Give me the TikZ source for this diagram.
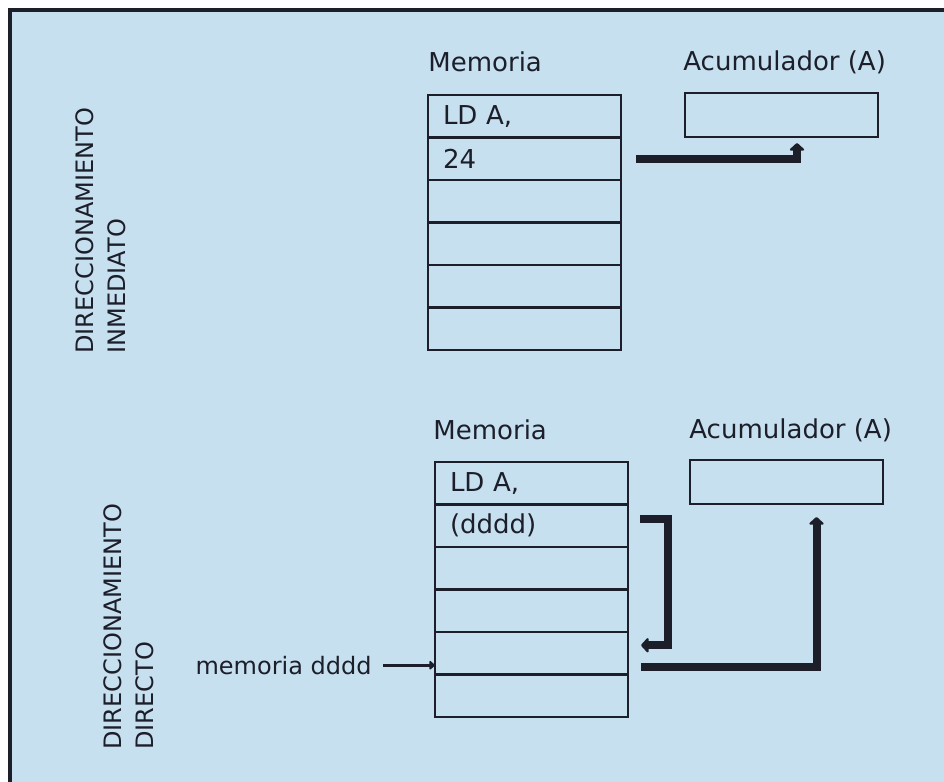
\documentclass[tikz,border=0pt]{standalone}
\usepackage{fontspec}
\setmainfont{DejaVu Sans}
\usetikzlibrary{arrows.meta, positioning}
\definecolor{paper}{RGB}{198,224,239}
\definecolor{ink}{RGB}{28,30,42}

\tikzset{
  cell/.style={draw=ink, line width=1.3pt, minimum width=96.5pt, minimum height=21.25pt,
    inner sep=0pt, outer sep=0pt, text width=81.5pt, align=left, text=ink,
    font=\fontsize{13}{15}\selectfont},
  accbox/.style={draw=ink, line width=1.3pt, minimum width=96.5pt, minimum height=22pt, outer sep=0pt},
  lbl/.style={text=ink, inner sep=0pt, font=\fontsize{13}{15}\selectfont},
  side/.style={text=ink, inner sep=0pt, rotate=90, anchor=north west, align=left,
    font=\fontsize{12}{16}\selectfont},
  bus/.style={draw=ink, line width=4pt, line join=miter, -{Triangle[round, length=4pt, width=8.5pt]}},
}

\begin{document}
\begin{tikzpicture}[x=0.5pt, y=-0.5pt]
  \useasboundingbox (0,0) rectangle (944,782);
  \fill[white] (0,0) rectangle (944,782);
  \fill[paper] (10,10) rectangle (944,782);
  \draw[ink, line width=2pt] (10,782) -- (10,10) -- (944,10);

  % inmediato
  \node[side] (modo1) at (75,354) {DIRECCIONAMIENTO\\INMEDIATO};
  \node[lbl, anchor=west] (mem1) at (428,62) {Memoria};
  \node[lbl, anchor=west] (acu1) at (683,62) {Acumulador (A)};
  \node[cell, anchor=north west] (m11) at (428,95) {LD A,};
  \node[cell, below=0pt of m11] (m12) {24};
  \foreach \i in {3,...,6} {
    \pgfmathtruncatemacro\p{\i-1}
    \node[cell, below=0pt of m1\p] (m1\i) {};
  }
  \node[accbox, anchor=north west] (acc1) at (685,93) {};
  \draw[bus, shorten <=7.5pt, shorten >=3pt] (m12.east) -| ([xshift=7.75pt]acc1.south);

  % directo
  \node[side] (modo2) at (103,750) {DIRECCIONAMIENTO\\DIRECTO};
  \node[lbl, anchor=west] (mem2) at (433,430) {Memoria};
  \node[lbl, anchor=west] (acu2) at (689,430) {Acumulador (A)};
  \node[cell, anchor=north west] (m21) at (435,462) {LD A,};
  \node[cell, below=0pt of m21] (m22) {(dddd)};
  \foreach \i in {3,...,6} {
    \pgfmathtruncatemacro\p{\i-1}
    \node[cell, below=0pt of m2\p] (m2\i) {};
  }
  \node[accbox, anchor=north west] (acc2) at (690,460) {};
  \draw[bus, shorten <=6pt] ([yshift=3.5pt]m22.east) -- ++(20pt,0)
    |- ([xshift=6.5pt,yshift=4pt]m25.east);
  \draw[bus, shorten >=6.5pt] ([xshift=6.5pt,yshift=-7pt]m25.east) -| ([xshift=15pt]acc2.south);

  \node[lbl, anchor=east, font=\fontsize{12}{14}\selectfont] (dir) at ([xshift=-31.5pt,yshift=-6pt]m25.west) {memoria dddd};
  \draw[ink, line width=1.5pt, shorten <=5.5pt, -{Triangle[round, length=3pt, width=5pt]}] (dir.east) -- (dir.east -| m25.west);
\end{tikzpicture}
\end{document}
